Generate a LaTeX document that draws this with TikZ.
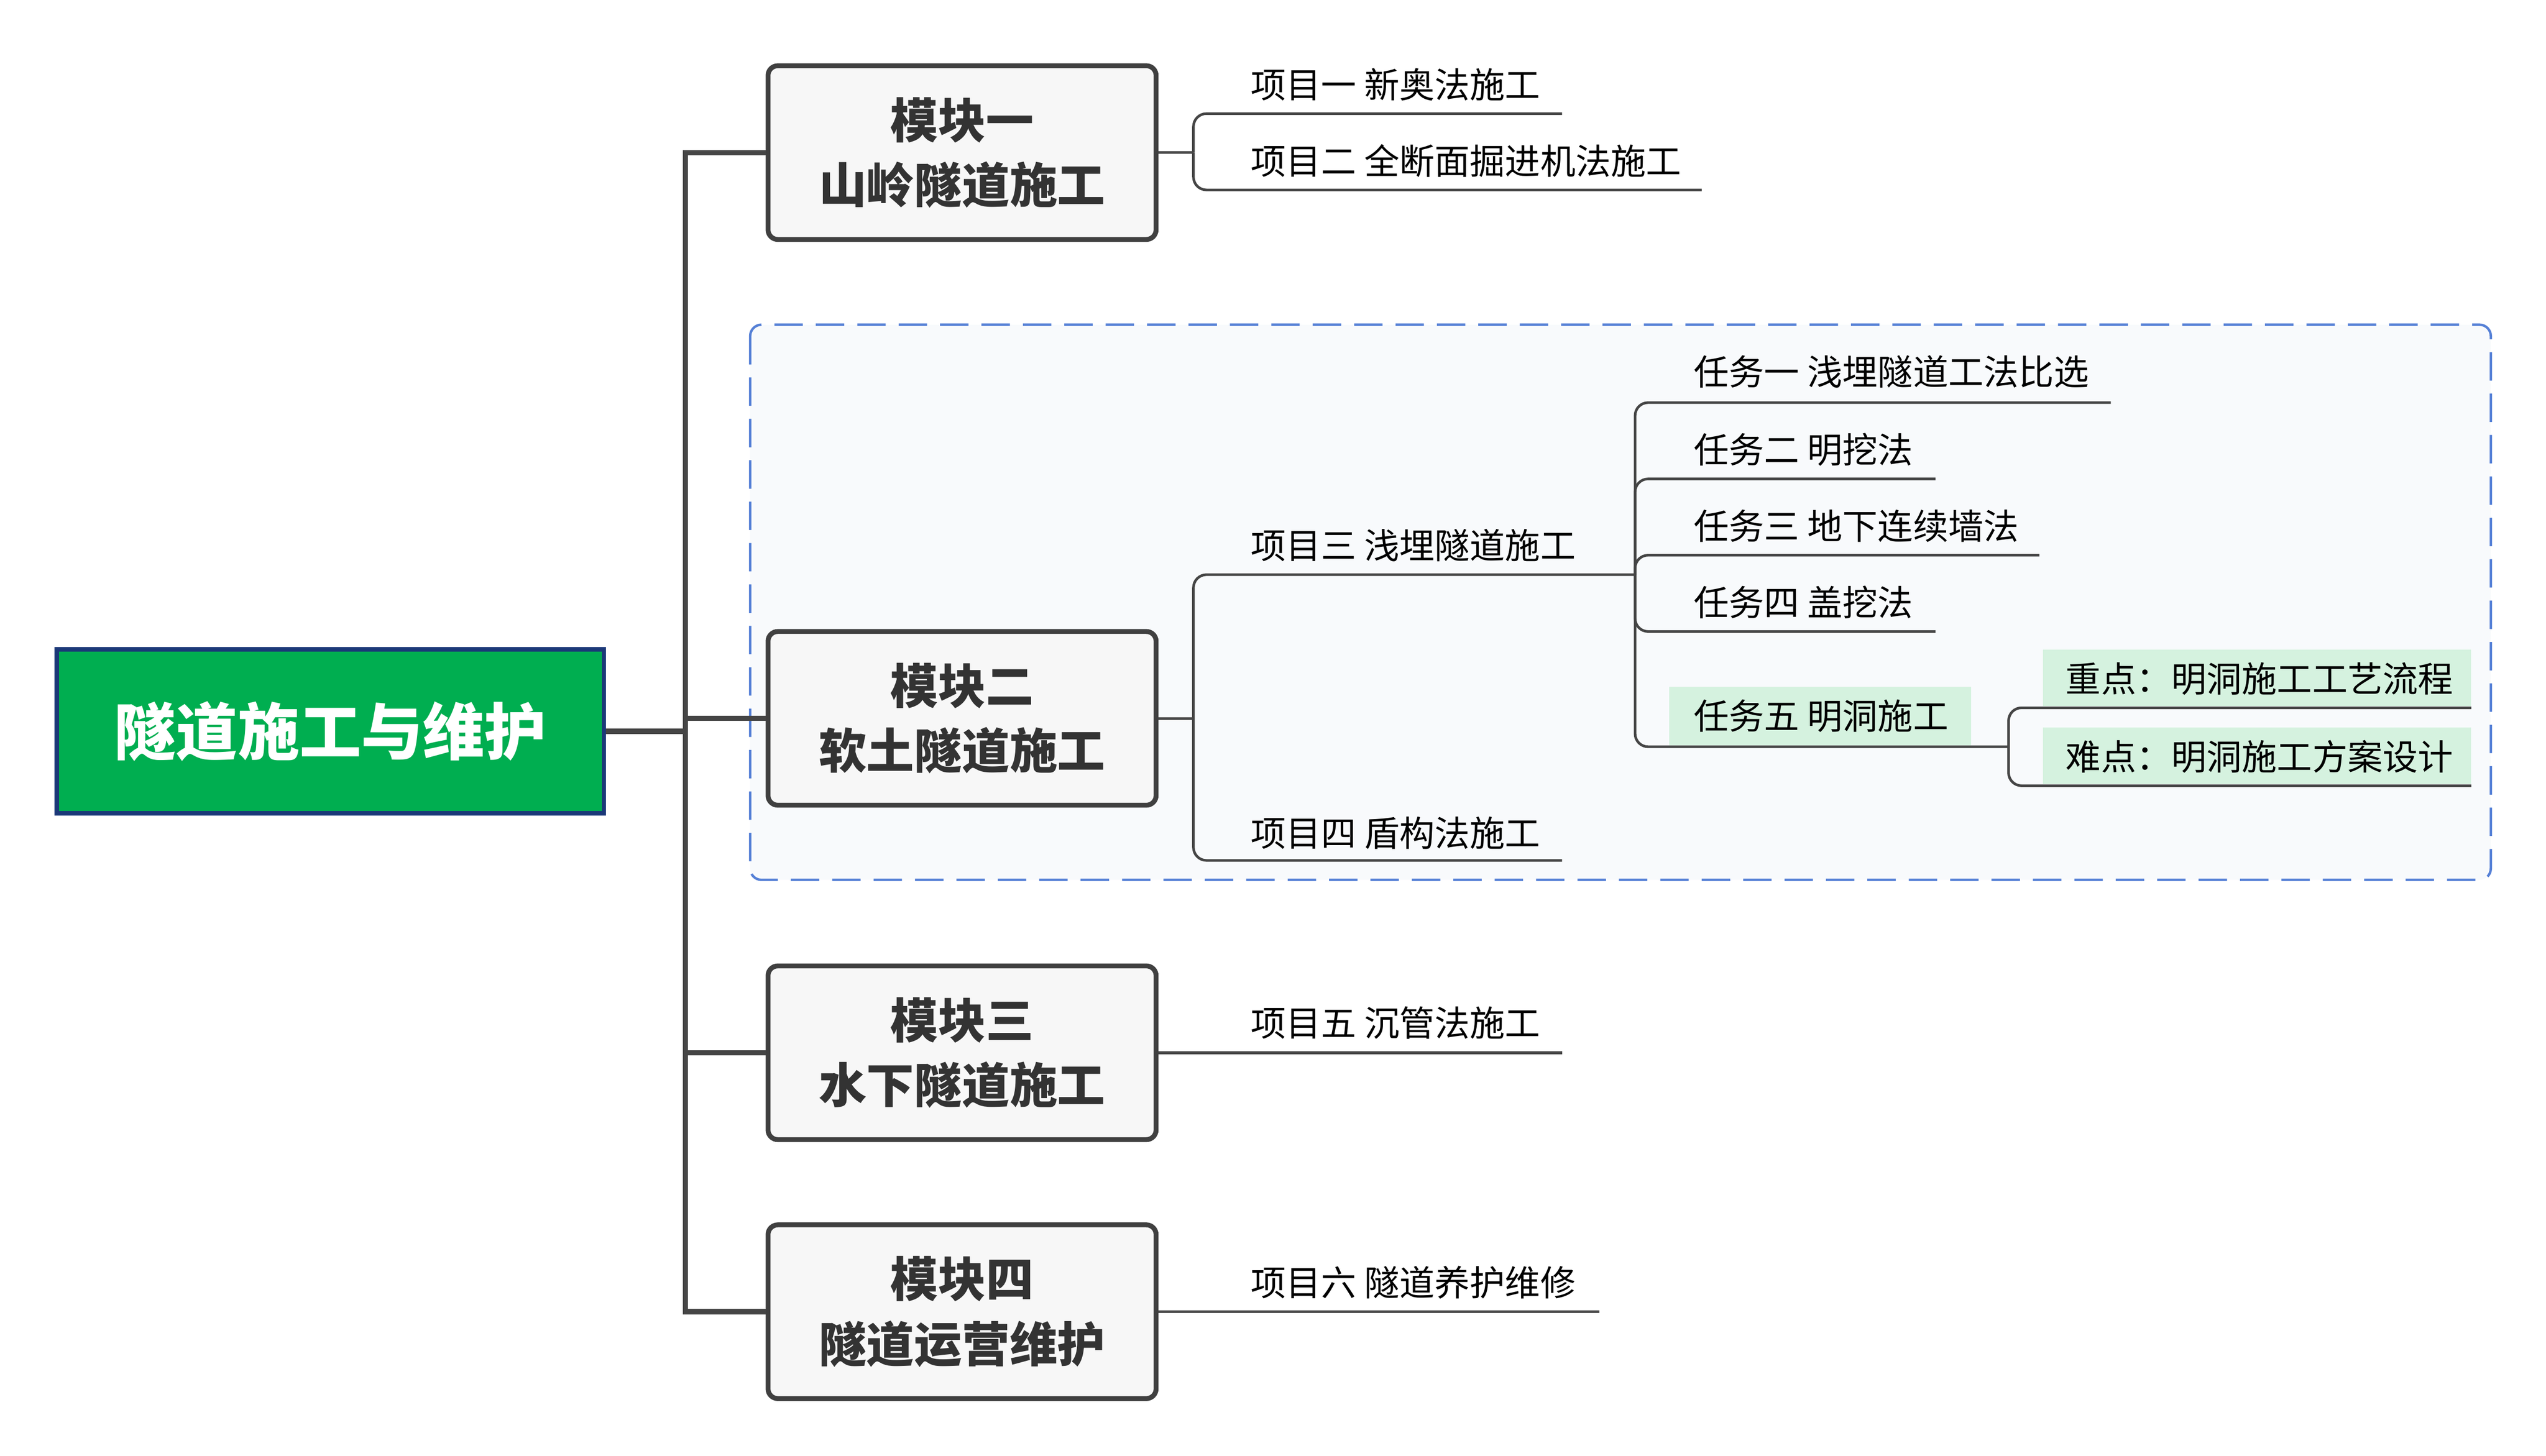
\documentclass[tikz,border=0pt]{standalone}
\usepackage{fontspec}
\setmainfont{Noto Sans CJK SC}
\usetikzlibrary{positioning}
\definecolor{rootgreen}{HTML}{00AE50}
\definecolor{rootnavy}{HTML}{1B3878}
\definecolor{modfill}{HTML}{F7F7F7}
\definecolor{modline}{HTML}{404040}
\definecolor{conn}{HTML}{454545}
\definecolor{dashblue}{HTML}{5580D6}
\definecolor{groupfill}{HTML}{F8FAFC}
\definecolor{hl}{HTML}{D5F2DF}
\definecolor{modtext}{HTML}{333333}
\tikzset{
  rootbox/.style={draw=rootnavy, line width=2.6pt, fill=rootgreen, text=white,
    minimum width=337pt, minimum height=101pt, inner sep=0pt,
    font=\fontsize{38}{44}\selectfont\bfseries},
  modbox/.style={draw=modline, line width=3pt, fill=modfill, rounded corners=6pt,
    minimum width=239pt, minimum height=107pt, inner sep=0pt, align=center,
    text=modtext, font=\fontsize{29.4}{40}\selectfont\bfseries},
  itemtext/.style={anchor=west, inner sep=0pt, text=black,
    font=\fontsize{21.7}{25}\selectfont},
  trunkline/.style={draw=conn, line width=3.2pt},
  subline/.style={draw=conn, line width=1.6pt},
  bracket/.style={subline, rounded corners=8pt},
  hlbox/.style={fill=hl, draw=none},
  groupbox/.style={draw=dashblue, line width=1.5pt, fill=groupfill,
    rounded corners=7pt, dash pattern=on 17.5pt off 8pt}
}
\begin{document}
\begin{tikzpicture}[x=1pt,y=-1pt]
\useasboundingbox (0,0) rectangle (1568,896.7);
% group background
\draw[groupbox] (462,200) rectangle (1534,542);
% highlights
\fill[hlbox] (1028,423) rectangle (1214,459);
\fill[hlbox] (1258,400) rectangle (1522,435);
\fill[hlbox] (1258,448) rectangle (1522,483);

% root and modules
\node[rootbox] (root) at (203.5,450.5) {隧道施工与维护};
\node[modbox] (m1) at (592.5,94) {模块一\\山岭隧道施工};
\node[modbox] (m2) at (592.5,442.5) {模块二\\软土隧道施工};
\node[modbox] (m3) at (592.5,648.5) {模块三\\水下隧道施工};
\node[modbox] (m4) at (592.5,808) {模块四\\隧道运营维护};

% trunk
\coordinate (tr) at (422,450.5);
\draw[trunkline] (root.east) -- (tr);
\draw[trunkline] (tr) |- (m1.west);
\draw[trunkline] (tr) |- (m2.west);
\draw[trunkline] (tr) |- (m3.west);
\draw[trunkline] (tr) |- (m4.west);

% module 1 items
\node[itemtext] (p1) at (770,52) {项目一 新奥法施工};
\node[itemtext] (p2) at (770,99) {项目二 全断面掘进机法施工};
\coordinate (p1e) at (962,70);
\coordinate (p2e) at (1048,117);
\coordinate (b1) at (735,94);
\draw[subline] (m1.east) -- (b1);
\draw[bracket] (b1) |- (p1e);
\draw[bracket] (b1) |- (p2e);

% module 2 items
\node[itemtext] (p3) at (770,336) {项目三 浅埋隧道施工};
\node[itemtext] (p4) at (770,513) {项目四 盾构法施工};
\coordinate (p3e) at (1007,354);
\coordinate (p4e) at (962,530);
\coordinate (b2) at (735,442.5);
\draw[subline] (m2.east) -- (b2);
\draw[bracket] (b2) |- (p3e);
\draw[bracket] (b2) |- (p4e);

% tasks
\node[itemtext] (t1) at (1043,229) {任务一 浅埋隧道工法比选};
\node[itemtext] (t2) at (1043,277) {任务二 明挖法};
\node[itemtext] (t3) at (1043,324) {任务三 地下连续墙法};
\node[itemtext] (t4) at (1043,371) {任务四 盖挖法};
\node[itemtext] (t5) at (1043,441) {任务五 明洞施工};
\coordinate (t1e) at (1300,248);
\coordinate (t2e) at (1192,295);
\coordinate (t3e) at (1256,342);
\coordinate (t4e) at (1192,389);
\coordinate (t5e) at (1237,460);
\draw[bracket] (p3e) |- (t1e);
\draw[bracket] (p3e) |- (t2e);
\draw[bracket] (p3e) |- (t3e);
\draw[bracket] (p3e) |- (t4e);
\draw[bracket] (p3e) |- (t5e);

% key points
\node[itemtext] (k1) at (1272,418) {重点：明洞施工工艺流程};
\node[itemtext] (k2) at (1272,466) {难点：明洞施工方案设计};
\coordinate (k1e) at (1522,436);
\coordinate (k2e) at (1522,484);
\draw[bracket] (t5e) |- (k1e);
\draw[bracket] (t5e) |- (k2e);

% module 3 and 4 items
\node[itemtext] (p5) at (770,630) {项目五 沉管法施工};
\node[itemtext] (p6) at (770,790) {项目六 隧道养护维修};
\coordinate (p5e) at (962,648.5);
\coordinate (p6e) at (985,808);
\draw[subline] (m3.east) -- (p5e);
\draw[subline] (m4.east) -- (p6e);
\end{tikzpicture}
\end{document}
